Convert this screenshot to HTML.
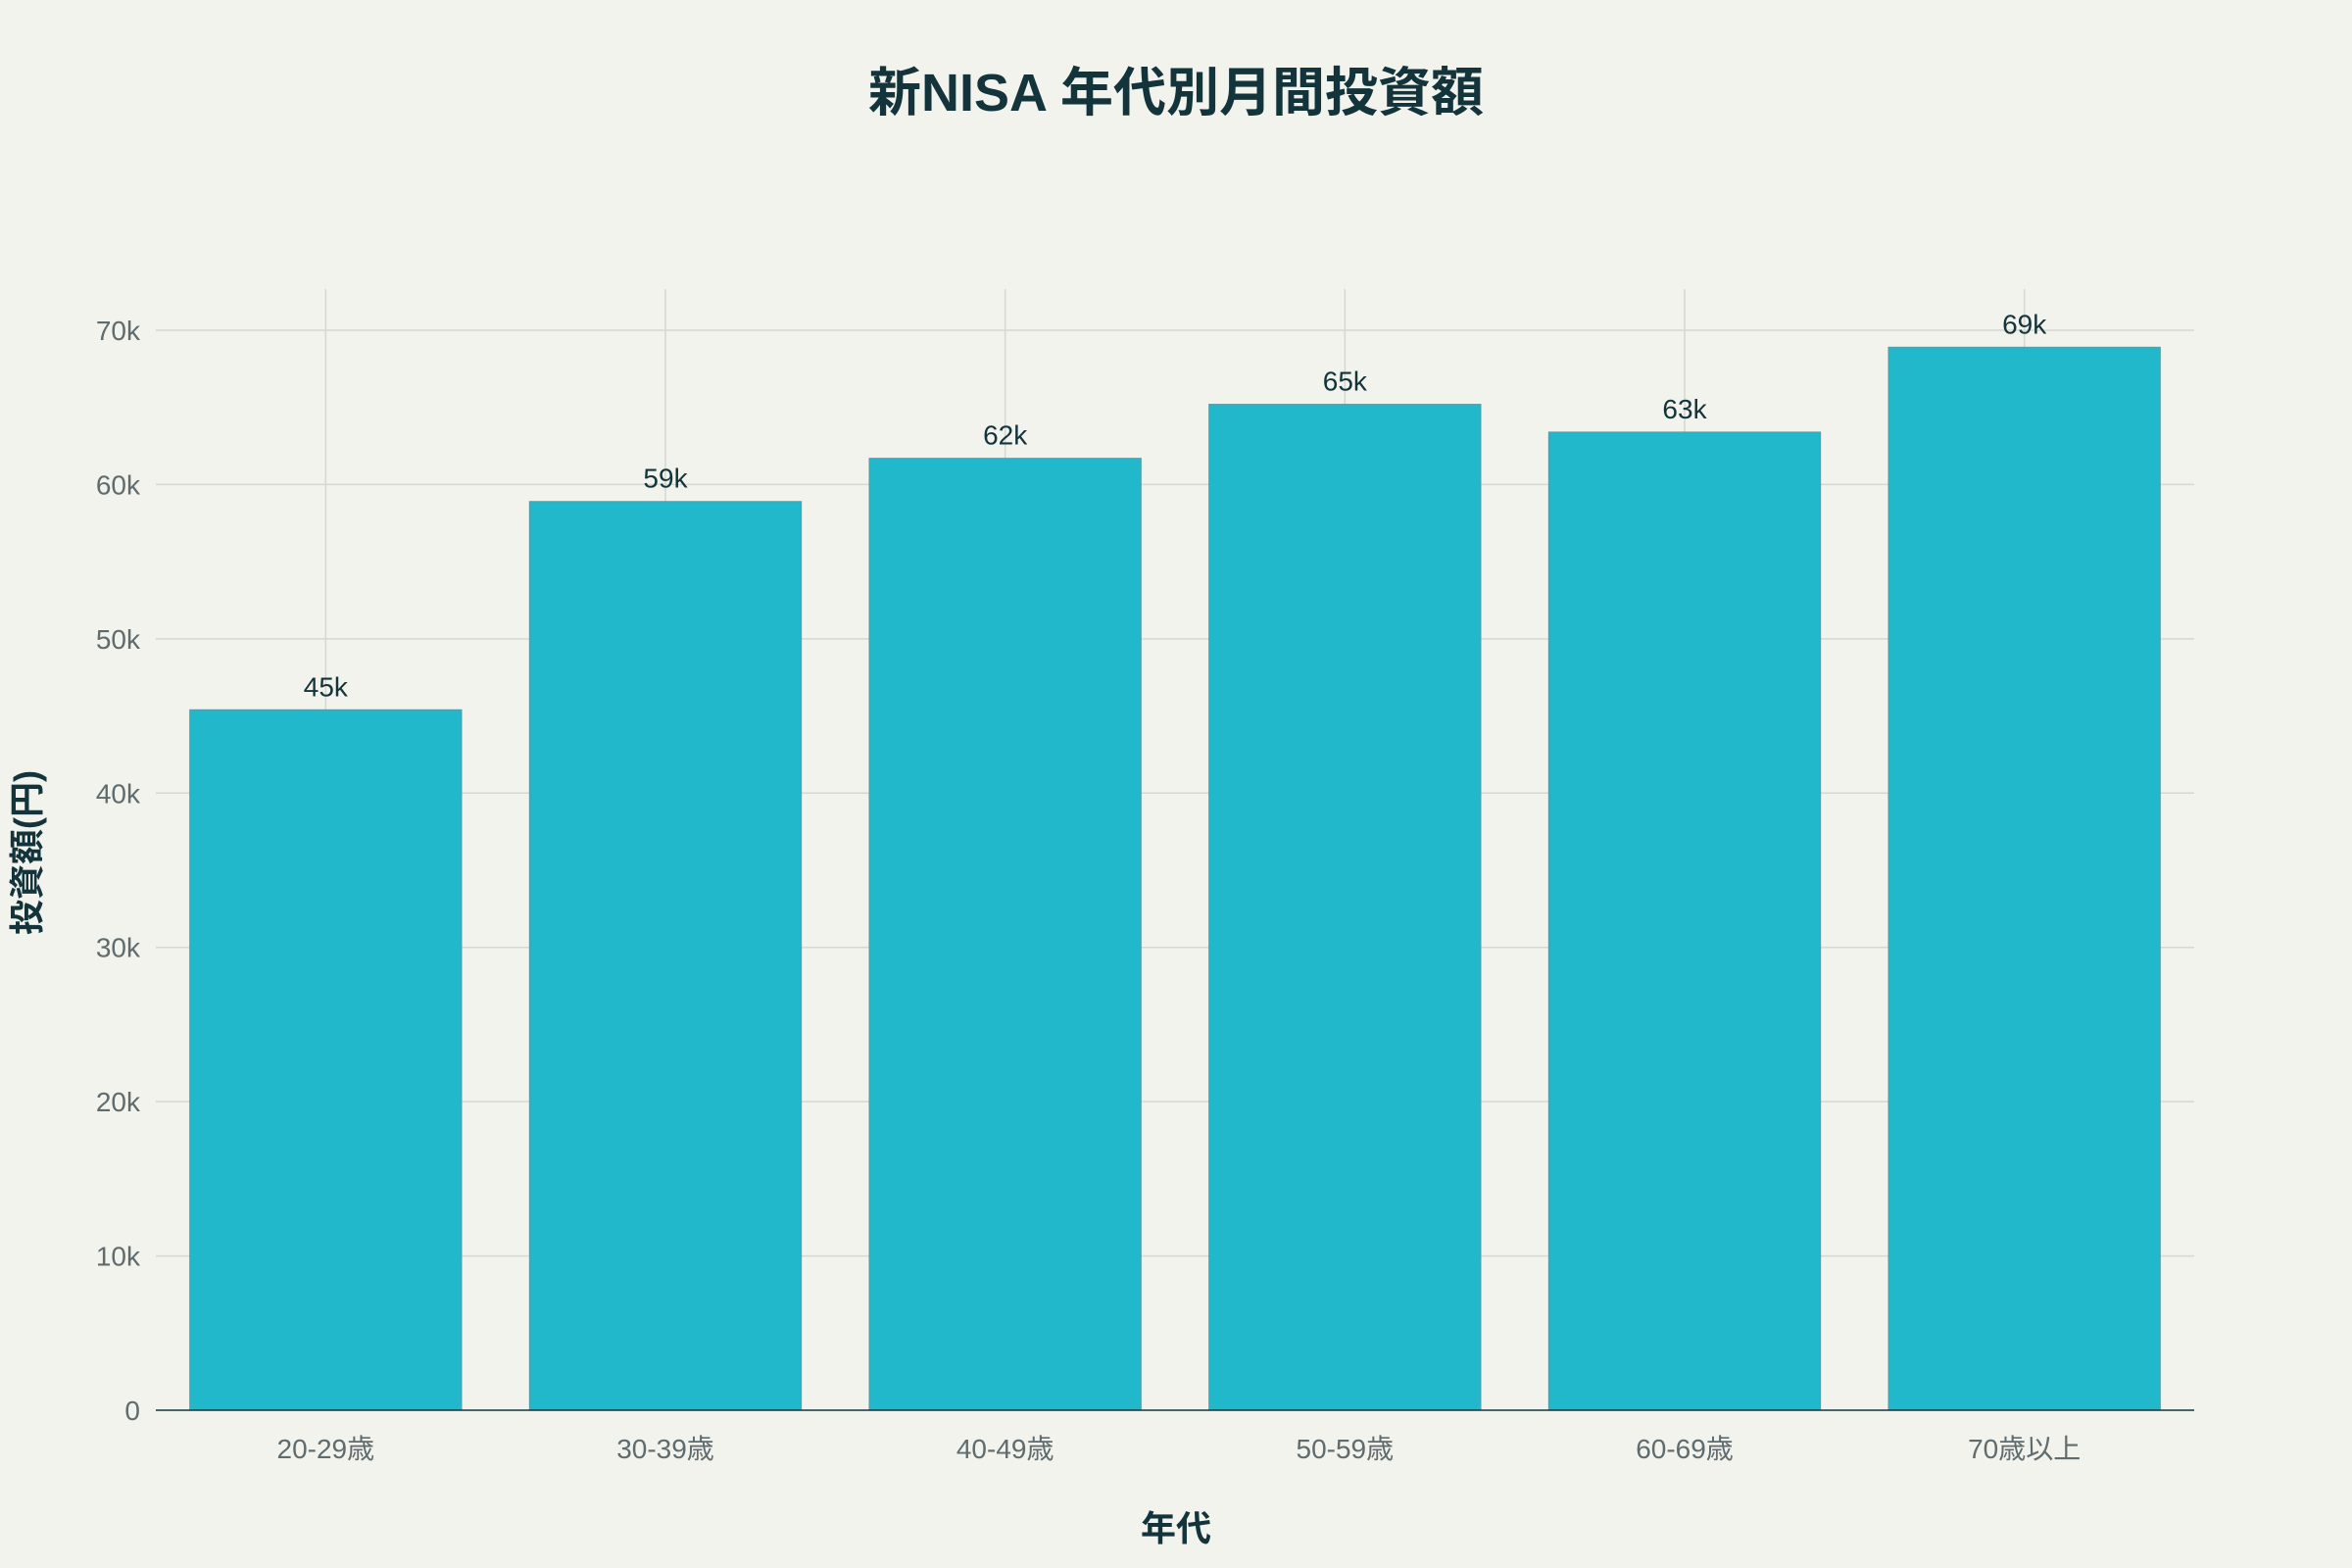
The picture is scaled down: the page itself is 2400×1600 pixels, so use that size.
<!DOCTYPE html>
<html><head><meta charset="utf-8"><style>
html,body{margin:0;padding:0;background:#f3f3ee;}
svg{display:block;font-family:"Liberation Sans","Noto Sans CJK JP",sans-serif;}
</style></head><body>
<svg id="chart" width="2400" height="1600" viewBox="0 0 2400 1600">
<rect width="2400" height="1600" fill="#f3f3ee"/>
<text x="1200" y="113" text-anchor="middle" font-size="54" font-weight="bold" fill="#13343b">新NISA 年代別月間投資額</text>
<g id="grid"></g><g id="bars"></g><g id="axes"></g>
<text x="1200" y="1572" text-anchor="middle" font-size="36" font-weight="bold" fill="#13343b">年代</text>
<text transform="translate(40,870) rotate(-90)" text-anchor="middle" font-size="36" font-weight="bold" fill="#13343b">投資額(円)</text>
</svg>
<script>
const categories=["20-29歳","30-39歳","40-49歳","50-59歳","60-69歳","70歳以上"];
const values=[45400,58900,61700,65200,63400,68900];
const valueLabels=["45k","59k","62k","65k","63k","69k"];
const yTicks=[0,10000,20000,30000,40000,50000,60000,70000];
const yTickLabels=["0","10k","20k","30k","40k","50k","60k","70k"];
const NS="http://www.w3.org/2000/svg";
const X0=159,X1=2239,Y0=1439,YTOP=295;
const yMax=70000,yPx70=337;
function y(v){return Y0-(v/yMax)*(Y0-yPx70);}
const band=(X1-X0)/categories.length;
function xc(i){return X0+band*(i+0.5);}
const bw=band*0.8;
function mk(tag,attrs,parent){const e=document.createElementNS(NS,tag);for(const k in attrs)e.setAttribute(k,attrs[k]);parent.appendChild(e);return e;}
const grid=document.getElementById('grid'),bars=document.getElementById('bars'),axes=document.getElementById('axes');
yTicks.forEach((t,i)=>{
 if(t>0){const l=mk('line',{x1:X0,x2:X1,y1:y(t),y2:y(t),stroke:'#d6d6d2','stroke-width':1.5},grid);
 
 }
 const tx=mk('text',{x:X0-16,y:y(t)+10,'text-anchor':'end','font-size':28,fill:'#5f6b6d'},axes);
 tx.textContent=yTickLabels[i];
 
 
});
categories.forEach((c,i)=>{
 const g=mk('line',{x1:xc(i),x2:xc(i),y1:YTOP,y2:Y0,stroke:'#d6d6d2','stroke-width':1.5},grid);
 
 
 const r=mk('rect',{x:xc(i)-bw/2,y:y(values[i]),width:bw,height:Y0-y(values[i]),fill:'#21b8cc',stroke:'#5a9aa3','stroke-width':1},bars);
 
 
 const vl=mk('text',{x:xc(i),y:y(values[i])-14,'text-anchor':'middle','font-size':28,fill:'#13343b'},bars);
 vl.textContent=valueLabels[i];
 
 
 const xl=mk('text',{x:xc(i),y:Y0+49,'text-anchor':'middle','font-size':28,fill:'#5f6b6d'},axes);
 xl.textContent=c;
 
 
});
const ax=mk('line',{x1:X0,x2:X1,y1:Y0,y2:Y0,stroke:'#13343b','stroke-width':1.5},axes);


</script>
</body></html>
